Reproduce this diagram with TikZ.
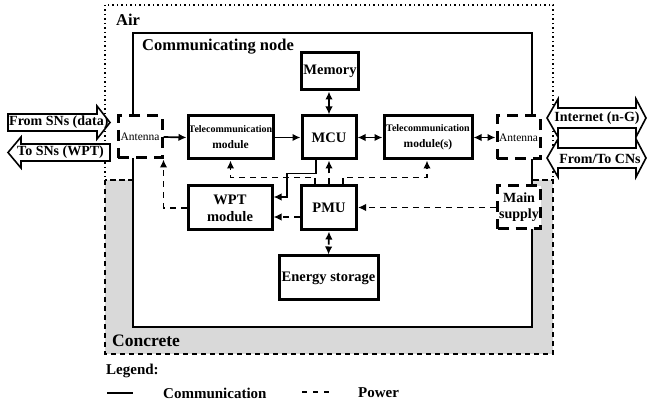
\documentclass[tikz,border=0pt]{standalone}
\usepackage{fontspec}
\setmainfont{Liberation Serif}
\usetikzlibrary{arrows.meta}
\begin{document}
\begin{tikzpicture}[x=1pt,y=-1pt,
  box/.style={draw, line width=3pt, fill=white, inner sep=0pt, align=center,
    font=\fontsize{14.5}{17}\selectfont\bfseries},
  dbox/.style={draw, line width=3pt, dash pattern=on 11pt off 7pt, fill=white,
    inner sep=0pt, align=center},
  tip/.style={-{Latex[length=8pt,width=7.5pt]}},
  btip/.style={{Latex[length=8pt,width=7.5pt]}-{Latex[length=8pt,width=7.5pt]}},
  comm/.style={line width=1.7pt},
  pow/.style={line width=1.8pt, dash pattern=on 6pt off 5pt},
  bigarrow/.style={draw, line width=1.6pt, fill=white, line join=miter},
  lbl/.style={font=\fontsize{14}{16}\selectfont\bfseries, inner sep=0pt},
  title/.style={font=\fontsize{16.5}{18}\selectfont\bfseries, inner sep=0pt, anchor=west},
]
\useasboundingbox (0,0) rectangle (648,403);

% regions
\fill[gray!30] (105,180) rectangle (553,354);
\draw[line width=2.2pt, dash pattern=on 5pt off 4pt] (105,180) rectangle (553,354);
\draw[line width=1.5pt, dash pattern=on 1.5pt off 3pt] (105,5) rectangle (553,180);
\draw[line width=2pt, fill=white] (133,33) rectangle (532,327);

\node[title] (air) at (116,20) {Air};
\node[title] (cn) at (142,47) {Communicating node};
\node[title, font=\fontsize{17.5}{19}\selectfont\bfseries] (concrete) at (112,341) {Concrete};

% blocks
\node[box, minimum width=57pt, minimum height=37pt] (mem) at (330,71.5) {Memory};
\node[box, minimum width=54pt, minimum height=43pt] (mcu) at (329,137.5) {MCU};
\node[box, minimum width=85pt, minimum height=43pt] (tel1) at (230.5,137.5)
  {{\fontsize{10}{11}\selectfont Telecommunication}\\[-1pt]{\fontsize{11.5}{13}\selectfont module}};
\node[box, minimum width=88pt, minimum height=43pt] (tel2) at (428,137.5)
  {{\fontsize{10}{11}\selectfont Telecommunication}\\[-1pt]{\fontsize{11.5}{13}\selectfont module(s)}};
\node[dbox, minimum width=44pt, minimum height=42pt, font=\fontsize{11.5}{13}\selectfont] (ant1) at (140,137) {Antenna};
\node[dbox, minimum width=43pt, minimum height=43pt, font=\fontsize{11.5}{13}\selectfont] (ant2) at (518.5,137.5) {Antenna};
\node[box, minimum width=84pt, minimum height=44pt] (wpt) at (230,208) {WPT\\module};
\node[box, minimum width=55pt, minimum height=44pt] (pmu) at (329,208) {PMU};
\node[box, minimum width=99pt, minimum height=44pt] (es) at (328.5,278) {Energy storage};
\node[dbox, minimum width=43pt, minimum height=43pt, font=\fontsize{14}{16}\selectfont\bfseries] (ms) at (519,207.5) {Main\\supply};

% communication connectors
\draw[comm, btip] (mcu.north) -- (mcu.north |- mem.south);
\draw[comm, tip] (ant1.east) -- (tel1.west);
\draw[comm, tip] (tel1.east) -- (mcu.west);
\draw[comm, btip] (mcu.east) -- (tel2.west);
\draw[comm, btip] (tel2.east) -- (ant2.west);
\draw[comm, tip] ([xshift=-13pt]mcu.south) -- ++(0,13) -- ++(-29,0) |- ([yshift=11pt]wpt.east);

% power connectors
\draw[pow, tip] (pmu.north) -- (mcu.south);
\draw[pow, tip] ([xshift=-14pt]pmu.north) -- ++(0,-7) -| (tel1.south);
\draw[pow, tip] ([xshift=14pt]pmu.north) -- ++(0,-7) -| ([xshift=-1pt]tel2.south);
\draw[pow, tip] ([yshift=-9pt]pmu.west) -- ([yshift=-9pt]pmu.west -| wpt.east);
\draw[pow, tip] (ms.west) -- (ms.west -| pmu.east);
\draw[pow, btip] (pmu.south) -- (es.north);
\draw[pow, tip] (wpt.west) -| (ant1.south east);

% big arrows left
\draw[bigarrow] (8,114) -- (97,114) -- (97,106) -- (110,122.5) -- (97,139) -- (97,131) -- (8,131) -- cycle;
\node[lbl, anchor=west] (fromsn) at (9,122.5) {From SNs (data)};
\draw[bigarrow] (8,152.5) -- (21,137) -- (21,144) -- (110,144) -- (110,161) -- (21,161) -- (21,168) -- cycle;
\node[lbl, anchor=west] (tosn) at (17,152.5) {To SNs (WPT)};

% big arrows right
\draw[bigarrow] (547,118) -- (558,99) -- (558,108) -- (636,108) -- (636,99) -- (646,118) -- (636,137) -- (636,128) -- (558,128) -- (558,137) -- cycle;
\node[lbl] (inet) at (597,118) {Internet (n-G)};
\draw[bigarrow] (547,158) -- (558,139) -- (558,148) -- (636,148) -- (636,139) -- (646,158) -- (636,177) -- (636,168) -- (558,168) -- (558,177) -- cycle;
\node[lbl] (cns) at (600,158.5) {From/To CNs};

% legend
\node[lbl, anchor=west, font=\fontsize{15}{17}\selectfont\bfseries] (leg) at (106,371) {Legend:};
\draw[line width=1.8pt] (107,393) -- (133,393);
\node[lbl, anchor=west, font=\fontsize{15}{17}\selectfont\bfseries] (lc) at (163,393) {Communication};
\draw[line width=1.8pt, dash pattern=on 5pt off 6pt] (302,392) -- (331,392);
\node[lbl, anchor=west, font=\fontsize{15}{17}\selectfont\bfseries] (lp) at (358,393) {Power};
\end{tikzpicture}
\end{document}
